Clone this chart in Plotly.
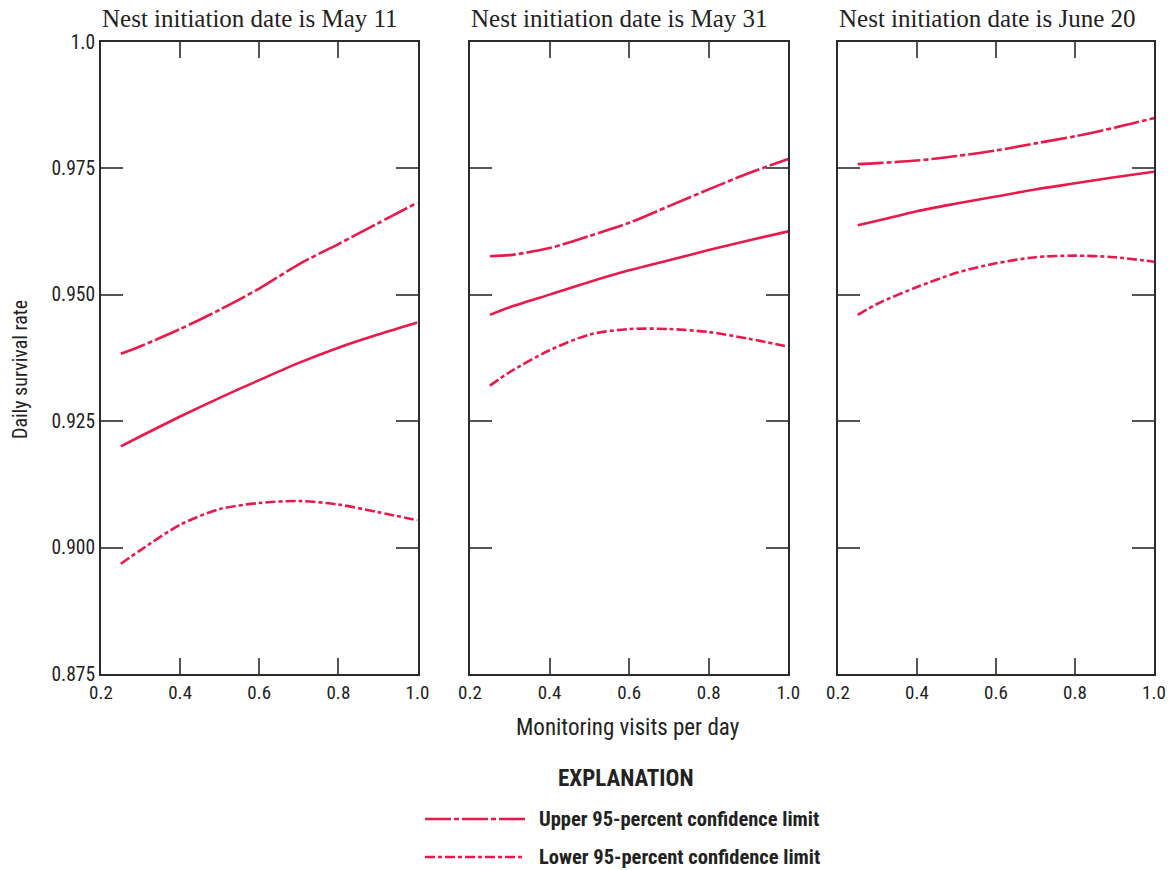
import plotly.graph_objects as go

# ---- data ----
visits = [0.25, 0.3, 0.4, 0.5, 0.6, 0.7, 0.8, 0.9, 1.0]

panel_titles = ["Nest initiation date is May 11",
                "Nest initiation date is May 31",
                "Nest initiation date is June 20"]

mean_may11 = [0.920, 0.922, 0.9259, 0.9296, 0.9331, 0.9365, 0.9395, 0.9421, 0.9445]
upper_may11 = [0.9383, 0.9398, 0.9432, 0.9470, 0.9512, 0.9560, 0.9600, 0.9641, 0.9682]
lower_may11 = [0.8968, 0.8995, 0.9045, 0.9076, 0.9088, 0.9092, 0.9085, 0.9070, 0.9054]

mean_may31 = [0.9460, 0.9475, 0.9500, 0.9525, 0.9548, 0.9568, 0.9588, 0.9607, 0.9625]
upper_may31 = [0.9576, 0.9578, 0.9592, 0.9616, 0.9642, 0.9675, 0.9708, 0.9740, 0.9768]
lower_may31 = [0.9320, 0.9347, 0.9390, 0.9421, 0.9432, 0.9432, 0.9426, 0.9413, 0.9397]

mean_jun20 = [0.9637, 0.9646, 0.9665, 0.9680, 0.9694, 0.9708, 0.9720, 0.9732, 0.9743]
upper_jun20 = [0.9758, 0.9760, 0.9765, 0.9774, 0.9785, 0.9799, 0.9813, 0.9830, 0.9849]
lower_jun20 = [0.9460, 0.9482, 0.9515, 0.9543, 0.9562, 0.9574, 0.9577, 0.9574, 0.9565]

panels = [
    (mean_may11, upper_may11, lower_may11),
    (mean_may31, upper_may31, lower_may31),
    (mean_jun20, upper_jun20, lower_jun20),
]

x_ticks = [0.2, 0.4, 0.6, 0.8, 1.0]
x_ticklabels = ["0.2", "0.4", "0.6", "0.8", "1.0"]
y_ticks = [0.875, 0.9, 0.925, 0.95, 0.975, 1.0]
y_ticklabels = ["0.875", "0.900", "0.925", "0.950", "0.975", "1.0"]

legend_labels = ["Upper 95-percent confidence limit",
                 "Lower 95-percent confidence limit"]

# ---- style ----
RED = "#E8194B"
AXIS = "#2b2b2b"
TICK = "#555555"
SANS = "Liberation Sans Narrow, Roboto Condensed, Arial Narrow, Roboto, sans-serif"
SERIF = "Liberation Serif, Times New Roman, serif"
UPPER_DASH = "26px,3px,5px,3px"
LOWER_DASH = "10px,3px,4px,3px"

W, H = 1176, 870
x_domains = [(101 / W, 417.5 / W), (470 / W, 788.3 / W), (838 / W, 1154 / W)]
y_domain = (1 - 674 / H, 1 - 41.7 / H)

fig = go.Figure()

for i, (mean, up, lo) in enumerate(panels):
    n = "" if i == 0 else str(i + 1)
    xa, ya = "x" + n, "y" + n
    for vals, dash in ((up, UPPER_DASH), (mean, "solid"), (lo, LOWER_DASH)):
        fig.add_trace(go.Scatter(
            x=visits, y=vals, mode="lines", xaxis=xa, yaxis=ya,
            line=dict(color=RED, width=2.6, dash=dash, shape="spline", smoothing=0.8),
            showlegend=False, hoverinfo="skip"))

    axis_common = dict(showgrid=False, zeroline=False, showline=True, linecolor=AXIS,
                       linewidth=2, mirror="allticks", ticks="inside",
                       tickcolor=TICK, tickwidth=1.5, automargin=False)
    fig.update_layout(**{
        ("xaxis" + n): dict(axis_common, domain=x_domains[i], range=[0.2, 1.0],
                            tickvals=x_ticks, ticktext=x_ticklabels, ticklen=16,
                            tickfont=dict(family=SANS, size=19, color="#222"),
                            anchor=ya),
        ("yaxis" + n): dict(axis_common, domain=y_domain, range=[0.875, 1.0],
                            tickvals=y_ticks, ticktext=y_ticklabels, ticklen=22,
                            showticklabels=(i == 0),
                            tickfont=dict(family=SANS, size=19.5, color="#222"),
                            anchor=xa),
    })
    fig.add_annotation(text=panel_titles[i], xref="paper", yref="paper",
                       x=x_domains[i][0] - 1 / W, y=1 - 18 / H,
                       xanchor="left", yanchor="middle",
                       showarrow=False, font=dict(family=SERIF, size=25, color="#222"))

# axis titles
fig.add_annotation(text="Daily survival rate", xref="paper", yref="paper",
                   x=20 / W, y=1 - 370 / H, textangle=-90, showarrow=False,
                   xanchor="center", yanchor="middle",
                   font=dict(family=SANS, size=20, color="#222"))
fig.add_annotation(text="Monitoring visits per day", xref="paper", yref="paper",
                   x=628 / W, y=1 - 727 / H, showarrow=False,
                   xanchor="center", yanchor="middle",
                   font=dict(family=SANS, size=23, color="#222"))

# explanation / legend
fig.add_annotation(text="<b>EXPLANATION</b>", xref="paper", yref="paper",
                   x=626 / W, y=1 - 778 / H, showarrow=False,
                   xanchor="center", yanchor="middle",
                   font=dict(family=SANS, size=23, color="#222"))
for k, (label, dash, yy) in enumerate(((legend_labels[0], UPPER_DASH, 819),
                                        (legend_labels[1], LOWER_DASH, 857))):
    fig.add_shape(type="line", xref="paper", yref="paper",
                  x0=425 / W, x1=525 / W, y0=1 - yy / H, y1=1 - yy / H,
                  line=dict(color=RED, width=2.6, dash=dash))
    fig.add_annotation(text="<b>" + label + "</b>", xref="paper", yref="paper",
                       x=537 / W, y=1 - yy / H, showarrow=False,
                       xanchor="left", yanchor="middle",
                       font=dict(family=SANS, size=20.5, color="#222"))

fig.update_layout(width=W, height=H, margin=dict(l=0, r=0, t=0, b=0),
                  paper_bgcolor="white", plot_bgcolor="white")

fig.write_html("out.html")
